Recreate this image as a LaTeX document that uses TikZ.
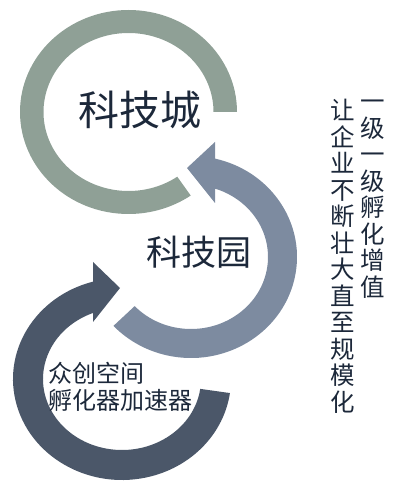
\documentclass[tikz,border=0pt]{standalone}
\usepackage{fontspec}
\newfontfamily\cjk{Noto Sans CJK SC}
\definecolor{ringA}{RGB}{143,160,150}
\definecolor{ringB}{RGB}{125,139,160}
\definecolor{ringC}{RGB}{75,87,105}
\definecolor{ink}{RGB}{28,40,58}
\begin{document}
\begin{tikzpicture}[x=1pt,y=1pt,
   lbl/.style={text=ink,inner sep=0pt},
   vcol/.style={lbl,align=center,font=\cjk\fontsize{24.5}{26.5}\selectfont}]
   \useasboundingbox (0,0) rectangle (400,485);
   % top ring
   \begin{scope}[shift={(128.5,373)}]
      \fill[ringA] (0:108.5 and 102) arc[start angle=0,end angle=305,x radius=108.5,y radius=102]
         -- (305:85 and 79) arc[start angle=305,end angle=0,x radius=85,y radius=79] -- cycle;
   \end{scope}
   % middle ring
   \begin{scope}[shift={(191,228)}]
      \fill[ringB] (-4,89) -- (24,115) -- (76.9:106 and 101)
         arc[start angle=76.9,end angle=-137,x radius=106,y radius=101]
         -- (-137:77 and 72) arc[start angle=-137,end angle=71.8,x radius=77,y radius=72]
         -- (24,54) -- cycle;
   \end{scope}
   % bottom ring
   \begin{scope}[shift={(122,106)}]
      \fill[ringC] (-2,91) -- (-29,117) -- (105.4:109 and 101)
         arc[start angle=105.4,end angle=352,x radius=109,y radius=101]
         -- (352:79 and 71) arc[start angle=352,end angle=111.5,x radius=79,y radius=71]
         -- (-29,57) -- cycle;
   \end{scope}

   \draw (140,375) node[lbl,font=\cjk\fontsize{41}{45}\selectfont] (city) {科技城};
   \draw (198.5,233) node[lbl,font=\cjk\fontsize{35}{40}\selectfont] (park) {科技园};
   \draw (48,98.5) node[lbl,anchor=west,align=left,font=\cjk\fontsize{24}{27}\selectfont] (space)
      {众创空间\\孵化器加速器};
   \draw (373,286) node[vcol] (step1) {一\\级\\一\\级\\孵\\化\\增\\值};
   \draw (343,228.5) node[vcol] (grow) {让\\企\\业\\不\\断\\壮\\大\\直\\至\\规\\模\\化};
\end{tikzpicture}
\end{document}
